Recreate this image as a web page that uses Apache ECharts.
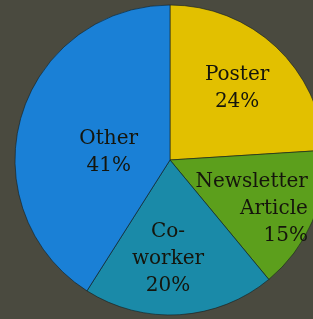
<!DOCTYPE html>
<html>
<head>
<meta charset="utf-8">
<script src="https://cdn.jsdelivr.net/npm/echarts@6/dist/echarts.min.js"></script>
<style>
  html, body { margin: 0; padding: 0; background: #4a4a3f; }
  #chart { width: 313px; height: 319px; }
</style>
</head>
<body>
<div id="chart"></div>
<script>
// slices, clockwise from 12 o'clock
const categories = ['Poster', 'Newsletter\nArticle', 'Co-\nworker', 'Other']
const values = [24, 15, 20, 41]
const colors = ['#e2c000', '#5c9f1c', '#1a8aa8', '#1a80d6']

// nudges for the inside labels (dx, dy, align)
const labelNudge = [
    { dx: 12, dy: -13 },
    { dx: 64, dy: 17, align: 'right' },
    { dx: -7, dy: 18 },
    { dx: 16, dy: 15 }
]

const chart = echarts.init(document.getElementById('chart'))

const option = {
    backgroundColor: '#4a4a3f',
    animation: false,
    series: [{
        type: 'pie',
        center: [170, 160],
        radius: 155,
        startAngle: 90,
        clockwise: true,
        label: {
            position: 'inside',
            formatter: (p) => p.name + '\n' + p.value + '%',
            fontFamily: 'DejaVu Serif',
            fontSize: 20,
            lineHeight: 27,
            color: '#15150c'
        },
        labelLayout: (params) => {
            const n = labelNudge[params.dataIndex]
            const out = { dx: n.dx, dy: n.dy }
            if (n.align) out.align = n.align
            return out
        },
        itemStyle: {
            borderColor: 'rgba(20,30,30,0.6)',
            borderWidth: 1
        },
        emphasis: { disabled: true },
        data: categories.map((c, i) => ({
            name: c,
            value: values[i],
            itemStyle: { color: colors[i] }
        }))
    }]
}

chart.setOption(option)
</script>
</body>
</html>
